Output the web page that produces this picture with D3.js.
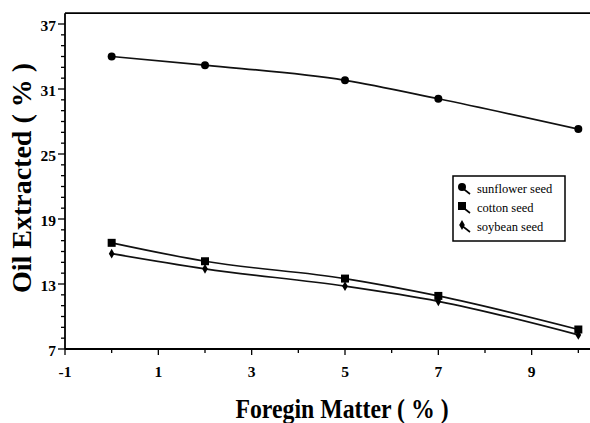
<!DOCTYPE html>
<html><head><meta charset="utf-8">
<script src="https://cdn.jsdelivr.net/npm/d3@7"></script>
<style>body{margin:0;background:#fff}svg{display:block}text{font-family:"Liberation Serif","Times New Roman",serif;font-weight:bold}</style>
</head><body><svg id="c" width="590" height="423"></svg>
<script>
const xVals=[0,2,5,7,10];
const sunflower=[34.0,33.2,31.8,30.1,27.3];
const cotton=[16.8,15.1,13.5,11.9,8.8];
const soybean=[15.8,14.4,12.8,11.4,8.3];
const xTicks=[-1,1,3,5,7,9];
const yTicks=[7,13,19,25,31,37];
const legendLabels=["sunflower seed","cotton seed","soybean seed"];

const svg=d3.select("#c");
const x=d3.scaleLinear().domain([-1,10.25]).range([65,590]);
const y=d3.scaleLinear().domain([7,37]).range([349,24]);
const yTop=y(38);

// frame
svg.append("line").attr("x1",65).attr("x2",590).attr("y1",yTop).attr("y2",yTop).attr("stroke","#000").attr("stroke-width",1.8);
svg.append("line").attr("x1",65).attr("x2",65).attr("y1",yTop).attr("y2",y(7)).attr("stroke","#000").attr("stroke-width",1.8);
svg.append("line").attr("x1",65).attr("x2",590).attr("y1",y(7)).attr("y2",y(7)).attr("stroke","#000").attr("stroke-width",1.8);

// y ticks
const gy=svg.append("g");
d3.range(7,38,1).forEach(v=>{
  const major=yTicks.includes(v);
  gy.append("line").attr("x1",65).attr("x2",major?58:61).attr("y1",y(v)).attr("y2",y(v)).attr("stroke","#000").attr("stroke-width",1.3);
});
yTicks.forEach(v=>gy.append("text").attr("x",56).attr("y",y(v)+7).attr("text-anchor","end").attr("font-size",15.5).text(v));
// x ticks
const gx=svg.append("g");
d3.range(-1,11,1).forEach(v=>{
  const major=xTicks.includes(v);
  gx.append("line").attr("x1",x(v)).attr("x2",x(v)).attr("y1",y(7)).attr("y2",y(7)+(major?6:4)).attr("stroke","#000").attr("stroke-width",1.3);
});
xTicks.forEach(v=>gx.append("text").attr("x",x(v)).attr("y",y(7)+28).attr("text-anchor","middle").attr("font-size",15.5).text(v));

svg.append("text").attr("transform","translate(342,418) scale(0.85,1)").attr("text-anchor","middle").attr("font-size",28).text("Foregin Matter ( % )");
svg.append("text").attr("transform","translate(31,178) rotate(-90)").attr("text-anchor","middle").attr("font-size",28).text("Oil Extracted ( % )");

const line=d3.line().x((d,i)=>x(xVals[i])).y(d=>y(d)).curve(d3.curveMonotoneX);
[sunflower,cotton,soybean].forEach(s=>svg.append("path").attr("d",line(s)).attr("fill","none").attr("stroke","#111").attr("stroke-width",1.7));

function marker(g,type,cx,cy){
  if(type===0) g.append("circle").attr("cx",cx).attr("cy",cy).attr("r",4).attr("fill","#000");
  else if(type===1) g.append("rect").attr("x",cx-4).attr("y",cy-4).attr("width",8).attr("height",8).attr("fill","#000");
  else g.append("path").attr("d",d3.symbol(d3.symbolDiamond,28)()).attr("transform",`translate(${cx},${cy})`).attr("fill","#000");
}
[sunflower,cotton,soybean].forEach((s,k)=>s.forEach((v,i)=>marker(svg,k,x(xVals[i]),y(v))));

// legend
const lg=svg.append("g");
lg.append("rect").attr("x",453).attr("y",176).attr("width",112).attr("height",65).attr("fill","#fff").attr("stroke","#000").attr("stroke-width",1.5);
legendLabels.forEach((t,i)=>{
  const cy=189+i*19;
  lg.append("line").attr("x1",461).attr("y1",cy-2).attr("x2",470).attr("y2",cy+5).attr("stroke","#000").attr("stroke-width",1.6);
  marker(lg,i,462,cy-2);
  lg.append("text").attr("x",477).attr("y",cy+4).attr("font-size",12.5).style("font-weight","normal").text(t);
});
</script></body></html>
